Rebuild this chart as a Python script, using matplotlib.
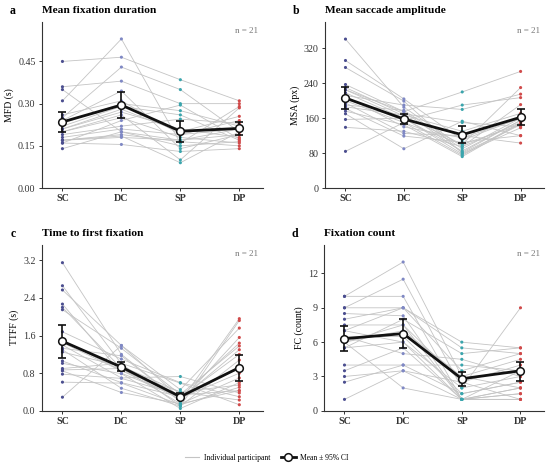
import numpy as np
import matplotlib
matplotlib.use("Agg")
import matplotlib.pyplot as plt
from matplotlib.lines import Line2D

plt.rcParams["font.family"] = ["Liberation Serif", "DejaVu Serif"]

conditions = ["SC", "DC", "SP", "DP"]
cond_colors = ["#4b4e8f", "#7f88c4", "#3aa5ad", "#d04a4a"]

# participant values, one row per participant: SC, DC, SP, DP
mfd = [
    [0.45, 0.465, 0.385, 0.31], [0.36, 0.38, 0.30, 0.30], [0.35, 0.20, 0.17, 0.21],
    [0.31, 0.53, 0.16, 0.29], [0.25, 0.43, 0.35, 0.20], [0.24, 0.345, 0.14, 0.19],
    [0.23, 0.30, 0.275, 0.22], [0.22, 0.29, 0.26, 0.17], [0.21, 0.28, 0.20, 0.255],
    [0.21, 0.27, 0.21, 0.18], [0.20, 0.26, 0.10, 0.285], [0.20, 0.25, 0.18, 0.16],
    [0.19, 0.22, 0.245, 0.23], [0.18, 0.21, 0.19, 0.21], [0.17, 0.19, 0.165, 0.15],
    [0.17, 0.185, 0.09, 0.20], [0.17, 0.18, 0.17, 0.19], [0.16, 0.155, 0.13, 0.14],
    [0.16, 0.24, 0.295, 0.175], [0.14, 0.20, 0.15, 0.165], [0.26, 0.31, 0.19, 0.24],
]
msa = [
    [341, 185, 95, 150], [292, 204, 110, 160], [276, 199, 80, 145], [237, 175, 220, 267],
    [230, 170, 150, 140], [225, 165, 100, 230], [218, 160, 85, 155], [212, 190, 180, 215],
    [205, 155, 190, 207], [200, 150, 75, 150], [195, 125, 120, 103], [190, 178, 90, 160],
    [186, 167, 130, 171], [182, 119, 105, 120], [176, 145, 72, 148], [170, 90, 153, 120],
    [157, 160, 78, 138], [139, 130, 95, 191], [84, 150, 100, 145], [210, 140, 115, 160],
    [225, 175, 82, 155],
]
ttff = [
    [3.15, 1.20, 0.20, 1.96], [2.66, 1.00, 0.10, 1.92], [2.57, 1.39, 0.45, 1.76],
    [2.27, 0.80, 0.30, 1.44], [2.20, 0.90, 0.15, 0.43], [2.15, 1.33, 0.35, 1.38],
    [1.68, 1.10, 0.60, 0.30], [1.50, 0.86, 0.25, 1.30], [1.40, 0.70, 0.73, 0.38],
    [1.33, 1.17, 0.20, 1.56], [1.30, 0.48, 0.10, 1.08], [1.25, 0.95, 0.40, 0.23],
    [1.06, 0.60, 0.30, 0.94], [1.01, 0.79, 0.05, 0.60], [0.90, 1.01, 0.59, 0.13],
    [0.87, 0.90, 0.28, 1.20], [0.85, 0.39, 0.15, 0.70], [0.78, 0.69, 0.34, 0.43],
    [0.61, 0.59, 0.13, 0.50], [0.29, 1.39, 0.27, 0.80], [1.45, 0.85, 0.40, 0.55],
]
fc = [
    [10, 13, 3, 2], [10, 10, 1, 1], [9, 9, 6, 5.5], [9, 11.5, 2, 9], [8.5, 8.3, 1, 1.5],
    [8, 9, 5.5, 5], [7.5, 7.5, 2.5, 4], [7, 6, 1, 1], [6.5, 5, 4.5, 3], [6.5, 6.5, 1.5, 2.5],
    [6, 2, 1, 2], [6, 7, 3, 4.5], [5.5, 6, 2, 3], [5.5, 8, 5, 5.5], [4, 4, 1.5, 2.5],
    [3.5, 5.5, 1, 3.5], [3, 3.5, 2.5, 1], [2.5, 4, 4, 3.5], [1, 3.5, 1, 2], [7, 9, 3.5, 5],
    [6, 7.5, 1, 1.5],
]

# group means and 95% CI bounds
mfd_mean = [0.235, 0.295, 0.202, 0.212]
mfd_lo = [0.200, 0.250, 0.165, 0.190]
mfd_hi = [0.270, 0.340, 0.238, 0.235]
msa_mean = [206, 158, 122, 162]
msa_lo = [182, 147, 103, 145]
msa_hi = [232, 170, 142, 182]
ttff_mean = [1.48, 0.93, 0.30, 0.92]
ttff_lo = [1.13, 0.84, 0.25, 0.64]
ttff_hi = [1.82, 1.03, 0.37, 1.19]
fc_mean = [6.3, 6.75, 2.8, 3.5]
fc_lo = [5.2, 5.5, 2.2, 2.65]
fc_hi = [7.4, 8.0, 3.4, 4.3]

panels = [
    ("a", "Mean fixation duration", "MFD (s)", mfd, mfd_mean, mfd_lo, mfd_hi,
     [0, 0.15, 0.30, 0.45], ["0.00", "0.15", "0.30", "0.45"], 0.59),
    ("b", "Mean saccade amplitude", "MSA (px)", msa, msa_mean, msa_lo, msa_hi,
     [0, 80, 160, 240, 320], ["0", "80", "160", "240", "320"], 380),
    ("c", "Time to first fixation", "TTFF (s)", ttff, ttff_mean, ttff_lo, ttff_hi,
     [0, 0.8, 1.6, 2.4, 3.2], ["0.0", "0.8", "1.6", "2.4", "3.2"], 3.53),
    ("d", "Fixation count", "FC (count)", fc, fc_mean, fc_lo, fc_hi,
     [0, 3, 6, 9, 12], ["0", "3", "6", "9", "12"], 14.5),
]

boxes = [
    [0.076, 0.599, 0.402, 0.354],
    [0.591, 0.599, 0.398, 0.354],
    [0.076, 0.124, 0.402, 0.354],
    [0.589, 0.124, 0.400, 0.354],
]

fig = plt.figure(figsize=(5.5, 4.69), dpi=100)
xs = np.arange(len(conditions))
gray = "#c4c4c4"

for box, (letter, title, ylabel, vals, mean, lo, hi, ticks, ticklabels, ytop) in zip(boxes, panels):
    ax = fig.add_axes(box)
    arr = np.array(vals, dtype=float)
    for row in arr:
        ax.plot(xs, row, color=gray, lw=0.6, zorder=1)
    for j in range(len(conditions)):
        ax.scatter(np.full(len(arr), xs[j]), arr[:, j], s=5, color=cond_colors[j],
                   edgecolors="none", zorder=2)
    mean = np.array(mean)
    yerr = [mean - np.array(lo), np.array(hi) - mean]
    ax.errorbar(xs, mean, yerr=yerr, fmt="none", ecolor="#111111", elinewidth=1.2,
                capsize=3, capthick=1.2, zorder=3)
    ax.plot(xs, mean, color="#111111", lw=2.0, marker="o", markersize=5.5,
            markerfacecolor="white", markeredgecolor="#111111", markeredgewidth=1.1, zorder=4)
    ax.set_xlim(-0.35, 3.4)
    ax.set_ylim(0, ytop)
    ax.set_yticks(ticks)
    ax.set_yticklabels(ticklabels, fontsize=7.2)
    ax.set_xticks(xs)
    ax.set_xticklabels(conditions, fontsize=7.2, fontweight="bold")
    ax.set_ylabel(ylabel, fontsize=7, labelpad=3)
    for s in ["top", "right"]:
        ax.spines[s].set_visible(False)
    for s in ["left", "bottom"]:
        ax.spines[s].set_color("#333333")
        ax.spines[s].set_linewidth(0.8)
    ax.tick_params(axis="both", length=2.5, width=0.7, colors="#333333", pad=2)
    ax.text(0.98, 0.97, "n = 21", transform=ax.transAxes, ha="right", va="top",
            fontsize=6.5, color="#777777")
    ax.text(-0.118, 1.048, letter, transform=ax.transAxes, ha="right", va="baseline",
            fontsize=8.5, fontweight="bold")
    ax.text(0.0, 1.056, title, transform=ax.transAxes, ha="left", va="baseline",
            fontsize=8.2, fontweight="bold")

handles = [
    Line2D([0], [0], color=gray, lw=0.8),
    Line2D([0], [0], color="#111111", lw=2.0, marker="o", markersize=5.5,
           markerfacecolor="white", markeredgecolor="#111111", markeredgewidth=1.1),
]
fig.legend(handles, ["Individual participant", "Mean \u00b1 95% CI"], loc="center",
           bbox_to_anchor=(0.485, 0.024), ncol=2, frameon=False, fontsize=5.5,
           handlelength=1.9, handletextpad=0.6, columnspacing=1.4)

fig.savefig("out.png", dpi=100)
